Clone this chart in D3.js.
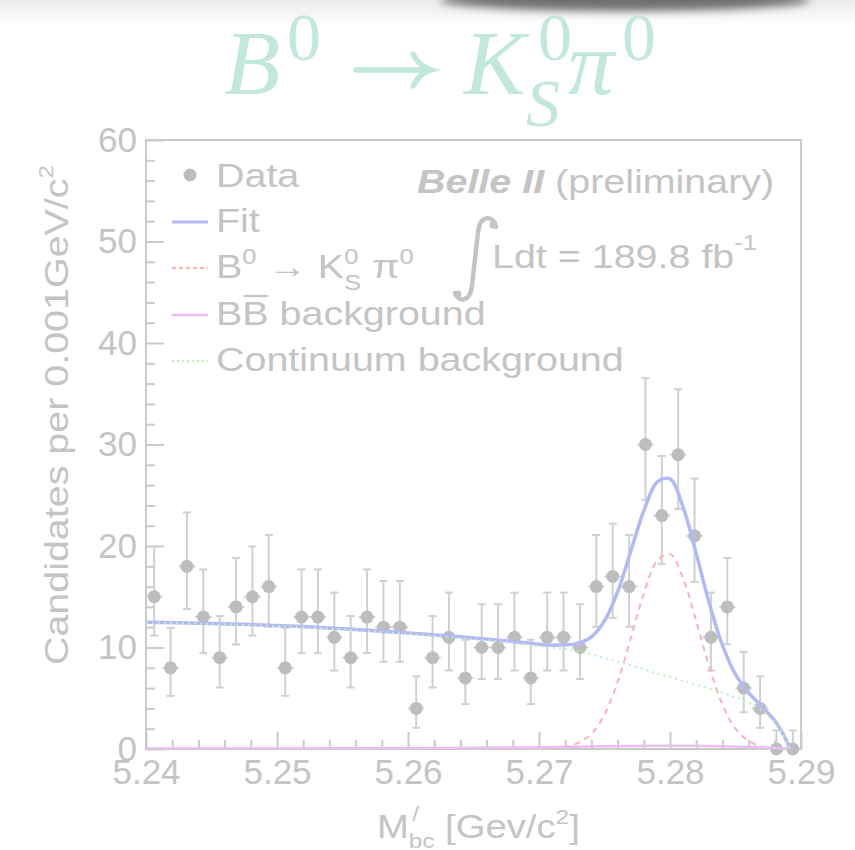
<!DOCTYPE html>
<html>
<head>
<meta charset="utf-8">
<script src="https://cdn.jsdelivr.net/npm/d3@7"></script>
<style>
  body { margin: 0; background: #fff; }
</style>
</head>
<body>
<svg id="chart" width="855" height="850"></svg>
<script>

// histogram of the data (40 bins between 5.24 and 5.29)
var binLow = 5.24, binHigh = 5.29;
var counts = [15, 8, 18, 13, 9, 14, 15, 16, 8, 13, 13, 11, 9, 13, 12, 12, 4, 9, 11, 7,
              10, 10, 11, 7, 11, 11, 10, 16, 17, 16, 30, 23, 29, 21, 11, 14, 6, 4, 0, 0];

// fit curves, sampled along the mass axis
var curveX   = [5.240, 5.244, 5.248, 5.252, 5.256, 5.260, 5.264, 5.268, 5.269, 5.270,
                5.271, 5.272, 5.273, 5.274, 5.275, 5.276, 5.277, 5.278, 5.279, 5.280,
                5.281, 5.282, 5.283, 5.284, 5.285, 5.286, 5.287, 5.288, 5.2885, 5.289, 5.2892];
var fitY     = [12.5, 12.4, 12.26, 12.06, 11.77, 11.43, 11.05, 10.59, 10.46, 10.33,
                10.23, 10.26, 10.43, 11.05, 12.62, 15.48, 19.45, 23.46, 26.27, 26.62,
                23.82, 19.26, 14.35, 10.23, 7.35, 5.56, 4.21, 2.77, 1.79, 0.53, 0];
var signalY  = [0, 0, 0, 0, 0, 0, 0, 0, 0.01, 0.01,
                0.04, 0.2, 0.6, 1.5, 3.4, 6.6, 10.9, 15.3, 18.5, 19.2,
                16.8, 12.6, 8.1, 4.4, 2.0, 0.8, 0.25, 0.07, 0.03, 0.01, 0];
var bbY      = [0.05, 0.05, 0.06, 0.06, 0.07, 0.08, 0.1, 0.14, 0.15, 0.17,
                0.19, 0.21, 0.23, 0.25, 0.27, 0.28, 0.3, 0.31, 0.32, 0.32,
                0.32, 0.31, 0.3, 0.28, 0.25, 0.21, 0.16, 0.1, 0.06, 0.02, 0];
var contY    = [12.45, 12.35, 12.2, 12.0, 11.7, 11.35, 10.95, 10.45, 10.3, 10.15,
                10.0, 9.85, 9.6, 9.3, 8.95, 8.6, 8.25, 7.85, 7.45, 7.1,
                6.7, 6.35, 5.95, 5.55, 5.1, 4.55, 3.8, 2.6, 1.7, 0.5, 0];

var xTicks = [5.24, 5.25, 5.26, 5.27, 5.28, 5.29];
var yTicks = [0, 10, 20, 30, 40, 50, 60];

var textColor = "#c4c4c4",
    axisColor = "#cacaca",
    markerColor = "#bdbdbd",
    errColor = "#d0d0d0",
    titleColor = "#c1e8da",
    fitColor = "#b3b8f7",
    sigColor = "#f8b4b4",
    bbColor = "#efbdf6",
    contColor = "#bfeec0";

var plotL = 146, plotR = 801, plotT = 140, plotB = 749;
var sx = 1.16;   // text in the picture is a bit wider than Helvetica

var svg = d3.select("#chart");
var defs = svg.append("defs");

defs.append("filter").attr("id", "blur")
  .attr("x", "-30%").attr("y", "-300%").attr("width", "160%").attr("height", "700%")
  .append("feGaussianBlur").attr("stdDeviation", 4);

var grad = defs.append("linearGradient").attr("id", "topfade")
  .attr("x1", 0).attr("y1", 0).attr("x2", 0).attr("y2", 1);
grad.append("stop").attr("offset", "0%").attr("stop-color", "#ebebeb");
grad.append("stop").attr("offset", "100%").attr("stop-color", "#ffffff");

defs.append("clipPath").attr("id", "plotclip")
  .append("rect").attr("x", plotL).attr("y", plotT - 2)
  .attr("width", plotR - plotL).attr("height", plotB - plotT + 2);

svg.append("rect").attr("width", 855).attr("height", 850).attr("fill", "#fff");
svg.append("rect").attr("width", 855).attr("height", 26).attr("fill", "url(#topfade)");
// dark smudge at the top edge
svg.append("ellipse").attr("cx", 625).attr("cy", 0).attr("rx", 185).attr("ry", 11)
  .attr("fill", "#707070").attr("filter", "url(#blur)");

// ---------- title ----------
var tg = svg.append("g").attr("fill", titleColor)
  .attr("font-family", "'Liberation Serif', 'DejaVu Serif', serif");
tg.append("text").attr("x", 224).attr("y", 94).attr("font-size", 92).attr("font-style", "italic").text("B");
tg.append("text").attr("x", 287).attr("y", 60).attr("font-size", 68).text("0");
// arrow
tg.append("path")
  .attr("d", "M 356,70 L 428,70 M 413,54 C 418,64 424,68 431,70 C 424,72 418,76 413,86")
  .attr("fill", "none").attr("stroke", titleColor).attr("stroke-width", 5.5)
  .attr("stroke-linecap", "round");
tg.append("text").attr("x", 464).attr("y", 94).attr("font-size", 92).attr("font-style", "italic").text("K");
tg.append("text").attr("x", 538).attr("y", 60).attr("font-size", 68).text("0");
tg.append("text").attr("x", 526).attr("y", 126).attr("font-size", 68).attr("font-style", "italic").text("S");
tg.append("text").attr("x", 568).attr("y", 94).attr("font-size", 92).attr("font-style", "italic").text("\u03c0");
tg.append("text").attr("x", 622).attr("y", 60).attr("font-size", 68).text("0");

// ---------- scales ----------
var x = d3.scaleLinear().domain([binLow, binHigh]).range([plotL, plotR]);
var y = d3.scaleLinear().domain([0, 60]).range([plotB, plotT]);

// frame
svg.append("rect").attr("x", plotL).attr("y", plotT)
  .attr("width", plotR - plotL).attr("height", plotB - plotT)
  .attr("fill", "none").attr("stroke", axisColor).attr("stroke-width", 2);

// minor ticks
var yMinor = d3.range(0, 61, 2).filter(function (d) { return d % 10 !== 0; });
var xMinor = d3.range(0, 26).filter(function (i) { return i % 5 !== 0; })
  .map(function (i) { return binLow + i * 0.002; });

svg.append("g").attr("transform", "translate(" + plotL + ",0)")
  .call(d3.axisLeft(y).tickValues(yMinor).tickSize(-9).tickFormat(""));
svg.append("g").attr("transform", "translate(0," + plotB + ")")
  .call(d3.axisBottom(x).tickValues(xMinor).tickSize(-9).tickFormat(""));

// major ticks with labels
svg.append("g").attr("transform", "translate(" + plotL + ",0)")
  .call(d3.axisLeft(y).tickValues(yTicks).tickSize(-18).tickPadding(9));
svg.append("g").attr("transform", "translate(0," + plotB + ")")
  .call(d3.axisBottom(x).tickValues(xTicks).tickSize(-17).tickPadding(10)
    .tickFormat(d3.format(".2f")));

svg.selectAll(".domain").remove();
svg.selectAll(".tick line").attr("stroke", axisColor).attr("stroke-width", 2);
svg.selectAll(".tick text")
  .attr("fill", textColor)
  .attr("font-family", "'Liberation Sans', Arial, sans-serif")
  .attr("font-size", 35);

// ---------- data points ----------
var bw = (binHigh - binLow) / counts.length;

// approximate 68% Poisson interval (Wilson-Hilferty form of the Garwood interval)
function poissonLow(n) {
  if (n === 0) return 0;
  var t = 1 - 1 / (9 * n) - 1 / (3 * Math.sqrt(n));
  return n * t * t * t;
}
function poissonHigh(n) {
  var m = n + 1;
  var t = 1 - 1 / (9 * m) + 1 / (3 * Math.sqrt(m));
  return m * t * t * t;
}

var bins = counts.map(function (c, i) {
  return { x0: binLow + i * bw, x1: binLow + (i + 1) * bw, xc: binLow + (i + 0.5) * bw,
           n: c, lo: poissonLow(c), hi: poissonHigh(c) };
});

var dataG = svg.append("g").attr("stroke", errColor).attr("stroke-width", 2);
var pt = dataG.selectAll("g.pt").data(bins).enter().append("g").attr("class", "pt");
pt.append("line")
  .attr("x1", function (d) { return x(d.xc); }).attr("x2", function (d) { return x(d.xc); })
  .attr("y1", function (d) { return y(d.lo); }).attr("y2", function (d) { return y(d.hi); });
pt.append("line")
  .attr("x1", function (d) { return x(d.x0); }).attr("x2", function (d) { return x(d.x1); })
  .attr("y1", function (d) { return y(d.n); }).attr("y2", function (d) { return y(d.n); });
pt.append("line")
  .attr("x1", function (d) { return x(d.xc) - 4; }).attr("x2", function (d) { return x(d.xc) + 4; })
  .attr("y1", function (d) { return y(d.hi); }).attr("y2", function (d) { return y(d.hi); });
pt.append("line")
  .attr("x1", function (d) { return x(d.xc) - 4; }).attr("x2", function (d) { return x(d.xc) + 4; })
  .attr("y1", function (d) { return y(d.lo); }).attr("y2", function (d) { return y(d.lo); });
pt.append("circle")
  .attr("cx", function (d) { return x(d.xc); })
  .attr("cy", function (d) { return y(d.n); })
  .attr("r", 6.5).attr("stroke", "none").attr("fill", markerColor);

// ---------- fit curves ----------
function pairs(ys) { return curveX.map(function (v, i) { return [v, ys[i]]; }); }

var line = d3.line()
  .x(function (d) { return x(d[0]); })
  .y(function (d) { return y(d[1]); })
  .curve(d3.curveCatmullRom.alpha(0.5));

var curves = svg.append("g").attr("clip-path", "url(#plotclip)").attr("fill", "none");
curves.append("path").attr("d", line(pairs(fitY)))
  .attr("stroke", fitColor).attr("stroke-width", 3.5);
curves.append("path").attr("d", line(pairs(signalY)))
  .attr("stroke", sigColor).attr("stroke-width", 2).attr("stroke-dasharray", "6,5");
curves.append("path").attr("d", line(pairs(bbY)))
  .attr("stroke", bbColor).attr("stroke-width", 2.5);
curves.append("path").attr("d", line(pairs(contY)))
  .attr("stroke", contColor).attr("stroke-width", 2).attr("stroke-dasharray", "2,4");

// ---------- legend ----------
var font = "'Liberation Sans', Arial, sans-serif";
var lg = svg.append("g").attr("fill", textColor).attr("font-family", font);
var rowY = [187, 232, 278, 325, 371];

lg.append("circle").attr("cx", 190).attr("cy", rowY[0] - 12).attr("r", 6.5).attr("fill", markerColor);
var sampleStyles = [
  null,
  { c: fitColor, w: 3, dash: null },
  { c: sigColor, w: 2, dash: "4,3" },
  { c: bbColor, w: 2.5, dash: null },
  { c: contColor, w: 2, dash: "2,3" }
];
sampleStyles.forEach(function (s, i) {
  if (!s) return;
  lg.append("line").attr("x1", 172).attr("x2", 208)
    .attr("y1", rowY[i] - 10).attr("y2", rowY[i] - 10)
    .attr("stroke", s.c).attr("stroke-width", s.w)
    .attr("stroke-dasharray", s.dash);
});

function textGroup(parent, px, py, rot) {
  return parent.append("g")
    .attr("transform", "translate(" + px + "," + py + ")" + (rot ? " rotate(" + rot + ")" : "") +
      " scale(" + sx + ",1)");
}

textGroup(lg, 216, rowY[0]).append("text").attr("font-size", 34).text("Data");
textGroup(lg, 216, rowY[1]).append("text").attr("font-size", 34).text("Fit");

var sigText = textGroup(lg, 216, rowY[2]).append("text").attr("font-size", 34);
sigText.append("tspan").text("B");
sigText.append("tspan").attr("font-size", 22).attr("dy", -14).text("0");
sigText.append("tspan").attr("dy", 14).text(" \u2192 K");
sigText.append("tspan").attr("font-size", 22).attr("dy", -14).text("0");
sigText.append("tspan").attr("font-size", 22).attr("dx", -12.2).attr("dy", 26).text("S");
sigText.append("tspan").attr("dy", -12).text(" \u03c0");
sigText.append("tspan").attr("font-size", 22).attr("dy", -14).text("0");

var bbG = textGroup(lg, 216, rowY[3]);
var bbText = bbG.append("text").attr("font-size", 34);
bbText.append("tspan").text("B");
bbText.append("tspan").text("B");
bbText.append("tspan").text(" background");
var ext = bbText.node().getExtentOfChar(1);
bbG.append("line")
  .attr("x1", ext.x + 1).attr("x2", ext.x + ext.width - 1)
  .attr("y1", -29).attr("y2", -29)
  .attr("stroke", textColor).attr("stroke-width", 2.2);

textGroup(lg, 216, rowY[4]).append("text").attr("font-size", 34).text("Continuum background");

// ---------- labels ----------
var lab = svg.append("g").attr("fill", textColor).attr("font-family", font);

var belle = textGroup(lab, 417, 193).append("text").attr("font-size", 34);
belle.append("tspan").attr("font-weight", "bold").attr("font-style", "italic").text("Belle II");
belle.append("tspan").text(" (preliminary)");

// integral sign
lab.append("path")
  .attr("d", "M 496,227 C 494,215 480,214 478,232 L 472,286 C 470,303 458,302 455,293")
  .attr("fill", "none").attr("stroke", textColor).attr("stroke-width", 4.5)
  .attr("stroke-linecap", "round");
lab.append("circle").attr("cx", 493).attr("cy", 225).attr("r", 3.5);
lab.append("circle").attr("cx", 458).attr("cy", 294).attr("r", 3.5);

var lumi = textGroup(lab, 492, 268).append("text").attr("font-size", 34);
lumi.append("tspan").text("Ldt = 189.8 fb");
lumi.append("tspan").attr("font-size", 22).attr("dy", -18).text("-1");

// x axis title
var xt = textGroup(lab, 377, 838).append("text").attr("font-size", 33);
xt.append("tspan").text("M");
xt.append("tspan").attr("font-size", 21).attr("dx", 3).attr("dy", -17).text("/");
xt.append("tspan").attr("font-size", 21).attr("dx", -9).attr("dy", 27).text("bc");
xt.append("tspan").attr("dy", -10).text(" [Gev/c");
xt.append("tspan").attr("font-size", 21).attr("dy", -14).text("2");
xt.append("tspan").attr("dy", 14).text("]");

// y axis title
var yt = textGroup(lab, 68, 415, -90).append("text").attr("font-size", 34)
  .attr("text-anchor", "middle");
yt.append("tspan").text("Candidates per 0.001GeV/c");
yt.append("tspan").attr("font-size", 21).attr("dy", -15).text("2");

</script>
</body>
</html>
